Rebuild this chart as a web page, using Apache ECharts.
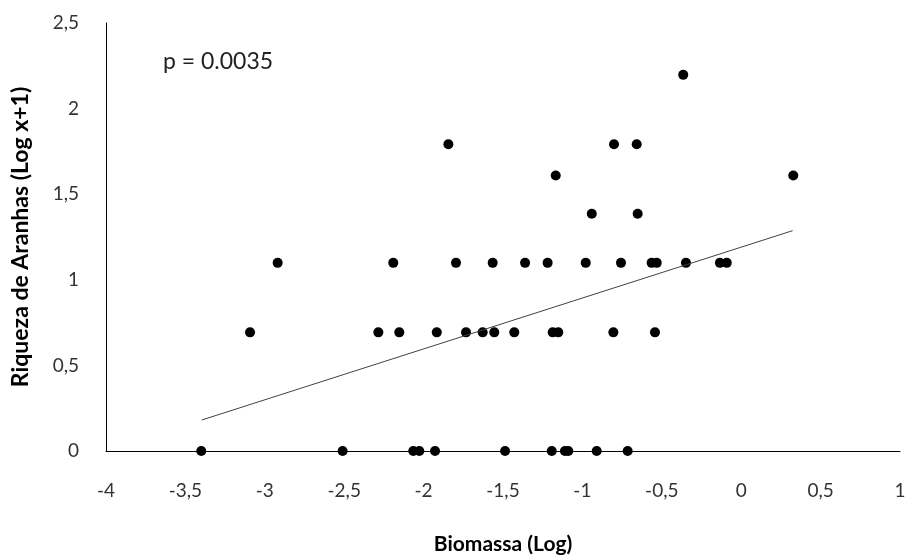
<!DOCTYPE html>
<html>
<head>
<meta charset="utf-8">
<script src="https://cdn.jsdelivr.net/npm/echarts@6/dist/echarts.min.js"></script>
<style>html,body{margin:0;padding:0;background:#fff}#c{width:908px;height:555px}</style>
</head>
<body>
<div id="c"></div>
<script>
// Biomassa (Log) values and Riqueza (Log x+1) values
const xRow0 = [-3.40, -2.51, -2.065, -2.027, -1.928, -1.487, -1.193, -1.110, -1.089, -0.910, -0.715];
const xRow1 = [-3.093, -2.285, -2.153, -1.917, -1.733, -1.628, -1.555, -1.429, -1.187, -1.152, -0.805, -0.543];
const xRow2 = [-2.919, -2.191, -1.796, -1.565, -1.361, -1.219, -0.979, -0.757, -0.564, -0.532, -0.348, -0.134, -0.091];
const xRow3 = [-0.941, -0.652];
const xRow4 = [-1.168, 0.328];
const xRow5 = [-1.844, -0.801, -0.658];
const xRow6 = [-0.365];
const yLevels = [0, 0.693, 1.099, 1.386, 1.609, 1.792, 2.197];
const trendX = [-3.397, 0.324];
const trendY = [0.181, 1.287];
const xTicks = ['-4','-3,5','-3','-2,5','-2','-1,5','-1','-0,5','0','0,5','1'];
const pText = 'p = 0.0035';

const rows = [xRow0, xRow1, xRow2, xRow3, xRow4, xRow5, xRow6];
const points = [];
rows.forEach((r, i) => r.forEach(x => points.push([x, yLevels[i]])));
const trend = trendX.map((x, i) => [x, trendY[i]]);
const fmt = v => String(v).replace('.', ',');
const font = 'Lato, "Open Sans", sans-serif';

const chart = echarts.init(document.getElementById('c'));
chart.setOption({
  animation: false,
  grid: { left: 106, right: 8, top: 23, bottom: 104, containLabel: false, outerBoundsMode: 'none' },
  xAxis: {
    type: 'value', min: -4, max: 1, interval: 0.5,
    axisLine: { show: true, onZero: false, lineStyle: { color: '#000', width: 1 } },
    axisTick: { show: false }, splitLine: { show: false },
    axisLabel: { color: '#333', fontSize: 19, fontFamily: font, margin: 30,
      formatter: v => fmt(v) },
    name: 'Biomassa (Log)', nameLocation: 'middle', nameGap: 83,
    nameTextStyle: { color: '#000', fontSize: 21, fontWeight: 'bold', fontFamily: font }
  },
  yAxis: {
    type: 'value', min: 0, max: 2.5, interval: 0.5,
    axisLine: { show: true, onZero: false, lineStyle: { color: '#000', width: 1 } },
    axisTick: { show: false }, splitLine: { show: false },
    axisLabel: { color: '#333', fontSize: 19, fontFamily: font, margin: 27,
      formatter: v => fmt(v) },
    name: 'Riqueza de Aranhas (Log x+1)', nameLocation: 'middle', nameGap: 74,
    nameTextStyle: { color: '#000', fontSize: 23, fontWeight: 'bold', fontFamily: font }
  },
  graphic: [{
    type: 'text', left: 163, top: 50,
    style: { text: pText, fill: '#222', font: '23px ' + font }
  }],
  series: [
    { type: 'scatter', data: points, symbol: 'circle', symbolSize: 10,
      itemStyle: { color: '#000', opacity: 1 } },
    { type: 'line', data: trend, symbol: 'none',
      lineStyle: { color: '#404040', width: 1 } }
  ]
});
</script>
</body>
</html>
